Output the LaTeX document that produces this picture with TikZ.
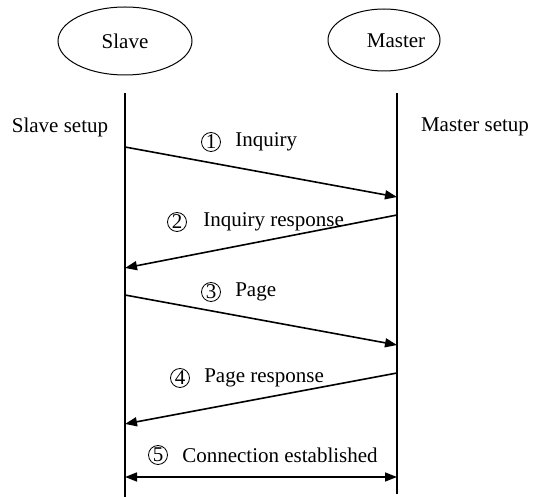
\documentclass[tikz,border=0pt]{standalone}
\usepackage{fontspec}
\setmainfont{Liberation Serif}
\usetikzlibrary{shapes.geometric,arrows.meta,positioning}

\begin{document}
\begin{tikzpicture}[x=0.5pt, y=-0.5pt,
    font=\fontsize{10.5pt}{12pt}\selectfont,
    party/.style={draw, ellipse, line width=0.5pt, inner sep=0pt},
    lifeline/.style={line width=0.8pt},
    msg/.style={line width=0.8pt, -{Triangle[length=6pt,width=4.5pt]}},
    num/.style={draw, circle, line width=0.4pt, inner sep=0pt, minimum size=9.5pt},
    lbl/.style={inner sep=0pt}]

\useasboundingbox (0,0) rectangle (536,497);

% Participants
\node[party, minimum width=67pt, minimum height=34pt] (slave) at (125,41) {Slave};
\node[party, minimum width=56pt, minimum height=31pt] (masterbox) at (384,40) {};
\node (master) at (396,41) {Master};

\node (slavesetup) at (60,127) {Slave setup};
\node (mastersetup) at (475,127) {Master setup};

% Lifelines
\coordinate (sTop) at (125,93);
\coordinate (sEnd) at (125,497);
\coordinate (mTop) at (397,93);
\coordinate (mEnd) at (397,494);
\draw[lifeline] (sTop) -- (sEnd);
\draw[lifeline] (mTop) -- (mEnd);

% Message end points on the lifelines
\coordinate (s1) at (125,147); \coordinate (m1) at (397,197);
\coordinate (m2) at (397,215); \coordinate (s2) at (125,268);
\coordinate (s3) at (125,295); \coordinate (m3) at (397,345);
\coordinate (m4) at (397,373); \coordinate (s4) at (125,424);
\coordinate (s5) at (125,477); \coordinate (m5) at (397,477);

% Messages
\draw[msg] (s1) -- (m1);
\draw[msg] (m2) -- (s2);
\draw[msg] (s3) -- (m3);
\draw[msg] (m4) -- (s4);
\draw[msg, {Triangle[length=6pt,width=4.5pt]}-{Triangle[length=6pt,width=4.5pt]}] (s5) -- (m5);

% Step labels
\node[num] (n1) at (211,142) {1};
\node[lbl, right=7pt of n1] (l1) {Inquiry};
\node[num] (n2) at (177,222) {2};
\node[lbl, right=8pt of n2] (l2) {Inquiry response};
\node[num] (n3) at (211,292) {3};
\node[lbl, right=7pt of n3] (l3) {Page};
\node[num] (n4) at (180,378) {4};
\node[lbl, right=7pt of n4] (l4) {Page response};
\node[num] (n5) at (158,455) {5};
\node[lbl, right=7pt of n5] (l5) {Connection established};

\end{tikzpicture}
\end{document}
